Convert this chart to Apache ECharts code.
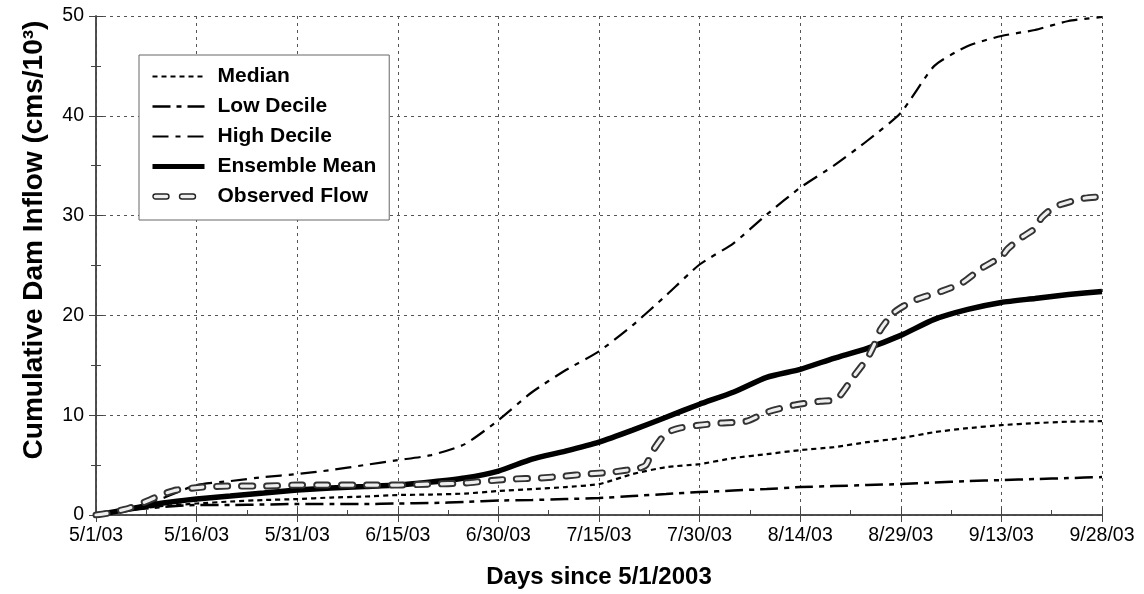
<!DOCTYPE html>
<html>
<head>
<meta charset="utf-8">
<title>Cumulative Dam Inflow</title>
<script src="https://cdn.jsdelivr.net/npm/echarts@6/dist/echarts.min.js"></script>
<style>
  html, body { margin: 0; padding: 0; background: #fff; }
  #chart { width: 1144px; height: 594px; }
</style>
</head>
<body>
<div id="chart"></div>
<script>
// Day offsets (from 5/1/2003) for the forecast series
const forecastDays = [0, 5, 10, 15, 20, 25, 30, 35, 40, 45, 50, 55, 60, 65, 70, 75,
  80, 85, 90, 95, 100, 105, 110, 115, 120, 125, 130, 135, 140, 145, 150];

// Cumulative inflow, cms/10^3
const median = [0, 0.5, 0.9, 1.15, 1.35, 1.5, 1.6, 1.75, 1.85, 2.0, 2.05, 2.15, 2.4, 2.6, 2.8, 3.1,
  4.1, 4.8, 5.1, 5.7, 6.1, 6.5, 6.8, 7.3, 7.7, 8.3, 8.7, 9.0, 9.2, 9.35, 9.4];
const lowDecile = [0, 0.5, 0.8, 1.0, 1.0, 1.05, 1.1, 1.1, 1.1, 1.15, 1.2, 1.3, 1.45, 1.5, 1.6, 1.7,
  1.9, 2.1, 2.3, 2.45, 2.6, 2.8, 2.9, 3.0, 3.1, 3.25, 3.4, 3.5, 3.6, 3.7, 3.8];
const highDecile = [0, 0.6, 1.7, 3.0, 3.4, 3.8, 4.1, 4.5, 5.0, 5.5, 6.0, 7.1, 9.5, 12.3, 14.5, 16.4,
  19.0, 22.0, 25.1, 27.2, 30.1, 32.8, 35.0, 37.5, 40.3, 45.0, 47.0, 48.0, 48.6, 49.5, 49.9];
const ensembleMean = [0, 0.6, 1.2, 1.6, 1.9, 2.2, 2.5, 2.7, 2.85, 3.0, 3.3, 3.7, 4.4, 5.6, 6.4, 7.3,
  8.5, 9.8, 11.1, 12.3, 13.8, 14.6, 15.7, 16.7, 18.0, 19.6, 20.6, 21.3, 21.7, 22.1, 22.4];

// Observed flow, sampled more densely around its steps
const observedDays = [0, 2, 5, 8, 10, 12, 16, 20, 25, 30, 35, 40, 45, 50, 55, 58, 62, 66, 70, 73,
  77, 81, 82, 83, 85, 87, 90, 93, 97, 100, 104, 108, 110, 111, 113, 115, 116, 117, 119, 122,
  126, 129, 132, 135, 136, 138, 140, 141, 143, 147, 150];
const observedFlow = [0, 0.2, 0.7, 1.5, 2.1, 2.5, 2.8, 2.9, 2.9, 3.0, 3.0, 3.0, 3.0, 3.1, 3.2, 3.4,
  3.6, 3.7, 3.9, 4.1, 4.3, 4.7, 5.0, 6.4, 8.2, 8.7, 9.0, 9.2, 9.4, 10.3, 11.0, 11.4, 11.5, 12.0,
  13.9, 15.7, 17.0, 18.6, 20.3, 21.5, 22.4, 23.2, 24.7, 25.9, 26.7, 27.8, 28.7, 29.8, 30.9, 31.7, 31.9];

// Date labels at each 15-day gridline
const xTickLabels = ['5/1/03', '5/16/03', '5/31/03', '6/15/03', '6/30/03', '7/15/03',
  '7/30/03', '8/14/03', '8/29/03', '9/13/03', '9/28/03'];

const seriesNames = ['Median', 'Low Decile', 'High Decile', 'Ensemble Mean', 'Observed Flow'];

function pairs(xs, ys) { return xs.map((x, i) => [x, ys[i]]); }

const FONT = 'Liberation Sans, Arial, sans-serif';
const frame = { show: true, lineStyle: { color: '#444', width: 1.5 } };
const gridLine = { show: true, lineStyle: { color: '#555', width: 1, type: [3, 4] } };
const tickStyle = { color: '#444' };

// Legend key for the observed series: two hollow capsules (corner points only widen the box)
const hollowDashIcon = 'path://M0,0 L0.01,0 M52,14 L51.99,14 ' +
  'M3,4.5 L14,4.5 A2.5,2.5 0 0 1 14,9.5 L3,9.5 A2.5,2.5 0 0 1 3,4.5 Z ' +
  'M29.5,4.5 L40.5,4.5 A2.5,2.5 0 0 1 40.5,9.5 L29.5,9.5 A2.5,2.5 0 0 1 29.5,4.5 Z';

// Line widths of the legend keys
const legendKeyWidth = { 'Median': 2.2, 'Low Decile': 2.5, 'High Decile': 2, 'Ensemble Mean': 5 };

const chart = echarts.init(document.getElementById('chart'), null, { renderer: 'canvas' });

function lineSeries(name, data, style, z) {
  return {
    name: name,
    type: 'line',
    data: data,
    symbol: 'none',
    smooth: 0.2,
    animation: false,
    z: z,
    itemStyle: { color: '#000' },
    lineStyle: Object.assign({ color: '#000' }, style)
  };
}

chart.setOption({
  animation: false,
  backgroundColor: '#fff',
  grid: { left: 96, right: 42, top: 16, bottom: 76 },
  legend: {
    data: seriesNames.map(n => n === 'Observed Flow'
      ? { name: n, icon: hollowDashIcon, itemStyle: { opacity: 1, color: '#eee', borderColor: '#222', borderWidth: 1.4 } }
      : { name: n, lineStyle: { width: legendKeyWidth[n] } }),
    orient: 'vertical',
    left: 139,
    top: 55,
    padding: [11, 13, 13, 11],
    itemWidth: 52,
    itemHeight: 14,
    itemGap: 9,
    backgroundColor: '#fff',
    borderColor: '#666',
    borderWidth: 1,
    itemStyle: { opacity: 0 },
    textStyle: { fontFamily: FONT, fontWeight: 'bold', fontSize: 21, color: '#000', padding: [0, 0, 0, 8] }
  },
  xAxis: [{
    type: 'value',
    min: 0, max: 150, interval: 15,
    axisLine: frame,
    axisTick: { show: true, inside: true, length: 7, lineStyle: tickStyle },
    minorTick: { show: true, splitNumber: 2, length: 5, lineStyle: tickStyle },
    splitLine: gridLine,
    axisLabel: {
      fontFamily: FONT, fontSize: 19.5, color: '#000', margin: 11,
      formatter: v => xTickLabels[Math.round(v / 15)]
    },
    name: 'Days since 5/1/2003',
    nameLocation: 'middle',
    nameGap: 50,
    nameTextStyle: { fontFamily: FONT, fontWeight: 'bold', fontSize: 24, color: '#000' }
  }, {
    type: 'value', position: 'top',
    min: 0, max: 150, interval: 15,
    axisLine: frame,
    axisTick: { show: true, inside: true, length: 7, lineStyle: tickStyle },
    axisLabel: { show: false },
    splitLine: { show: false }
  }],
  yAxis: [{
    type: 'value',
    min: 0, max: 50, interval: 10,
    axisLine: frame,
    axisTick: { show: true, inside: true, length: 7, lineStyle: tickStyle },
    minorTick: { show: true, splitNumber: 2, length: 5, lineStyle: tickStyle },
    splitLine: gridLine,
    axisLabel: { fontFamily: FONT, fontSize: 19.5, color: '#000', margin: 12 }
  }, {
    type: 'value', position: 'right',
    min: 0, max: 50, interval: 10,
    axisLine: frame,
    axisTick: { show: true, inside: true, length: 7, lineStyle: tickStyle },
    minorTick: { show: true, splitNumber: 2, length: 5, lineStyle: tickStyle },
    axisLabel: { show: false },
    splitLine: { show: false }
  }],
  graphic: [{
    type: 'text',
    x: 34, y: 240,
    rotation: Math.PI / 2,
    style: {
      text: 'Cumulative Dam Inflow (cms/10³)',
      font: 'bold 28px ' + FONT,
      fill: '#000',
      align: 'center',
      verticalAlign: 'middle'
    }
  }],
  series: [
    lineSeries('Median', pairs(forecastDays, median), { width: 2.2, type: [5, 4] }, 3),
    lineSeries('Low Decile', pairs(forecastDays, lowDecile), { width: 2.5, type: [18, 6, 5, 6] }, 3),
    lineSeries('High Decile', pairs(forecastDays, highDecile), { width: 2.2, type: [16, 7, 5, 7] }, 3),
    lineSeries('Ensemble Mean', pairs(forecastDays, ensembleMean), { width: 5.5 }, 4),
    // hollow dashes: dark outline underneath, light core on top
    lineSeries('Observed Flow', pairs(observedDays, observedFlow), { width: 7, color: '#333', type: [11, 14], cap: 'round' }, 5),
    lineSeries('Observed Flow', pairs(observedDays, observedFlow), { width: 3.2, color: '#eee', type: [11, 14], cap: 'round' }, 6)
  ]
});
</script>
</body>
</html>
